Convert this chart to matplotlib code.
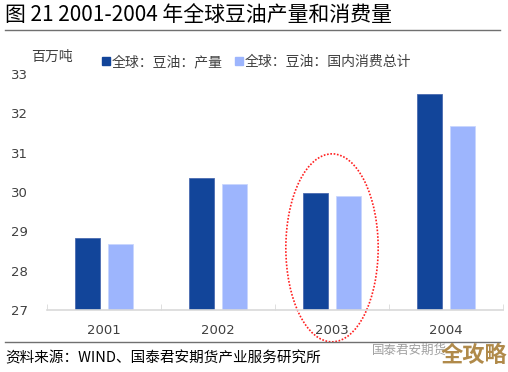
import matplotlib
matplotlib.use('Agg')
from matplotlib import pyplot as plt
from matplotlib.patches import Ellipse
from matplotlib.lines import Line2D
import numpy as np

plt.rcParams['font.family'] = ['Noto Sans CJK SC', 'DejaVu Sans']

years = ['2001', '2002', '2003', '2004']
production = [28.82, 30.35, 29.97, 32.48]
consumption = [28.68, 30.20, 29.90, 31.67]
series_names = ['全球：豆油：产量', '全球：豆油：国内消费总计']
colors = ['#12459a', '#9db5fd']


def main():
    fig = plt.figure(figsize=(5.08, 3.72), dpi=100)
    ax = fig.add_axes([47 / 508, 1 - 310 / 372, 456 / 508, 236 / 372])

    x = np.arange(len(years))
    offset = 0.145
    width = 0.225
    ax.bar(x - offset, production, width, bottom=0, color=colors[0],
           edgecolor='#4a6bb0', linewidth=0.6, label=series_names[0])
    ax.bar(x + offset, consumption, width, bottom=0, color=colors[1],
           edgecolor='#c9d6fe', linewidth=0.6, label=series_names[1])

    ax.set_ylim(27, 33)
    ax.set_xlim(-0.5, 3.5)
    ax.set_yticks(range(27, 34))
    ax.set_xticks(x)
    ax.set_xticklabels(years)
    ax.set_xticks(np.arange(-0.5, 4, 1), minor=True)
    ax.tick_params(axis='x', which='major', length=0, pad=10,
                   labelsize=9.5, labelcolor='#404040')
    ax.tick_params(axis='x', which='minor', length=4, color='#d9d9d9',
                   direction='in')
    ax.tick_params(axis='y', length=0, pad=14, labelsize=9.5,
                   labelcolor='#404040')
    for lbl in ax.get_yticklabels() + ax.get_xticklabels():
        lbl.set_family('DejaVu Sans')
    for side in ['left', 'right', 'top']:
        ax.spines[side].set_visible(False)
    ax.spines['bottom'].set_color('#d9d9d9')
    ax.spines['bottom'].set_linewidth(1.2)

    # dotted ring around 2003
    ell = Ellipse((2, 28.58), 0.81, 4.78, fill=False, edgecolor='#ff2020',
                  linestyle=(0, (1, 1)), linewidth=1.2, clip_on=False)
    ax.add_patch(ell)

    handles = [Line2D([], [], marker='s', linestyle='', markersize=6,
                      color=c) for c in colors]
    fig.legend(handles, series_names, loc='center left',
               bbox_to_anchor=(89 / 508, 1 - 62 / 372), ncol=2, frameon=False,
               fontsize=10, handlelength=0.6, handletextpad=0.1,
               columnspacing=0.9, labelcolor='#404040')

    fig.text(31 / 508, 1 - 57 / 372, '百万吨', fontsize=10, color='#404040',
             va='center')

    fig.text(5 / 508, 1 - 15 / 372, '图 21 2001-2004 年全球豆油产量和消费量',
             fontsize=15, va='center', color='black')
    fig.add_artist(Line2D([5 / 508, 500 / 508], [1 - 30 / 372] * 2,
                          color='#707070', linewidth=1))
    fig.add_artist(Line2D([5 / 508, 500 / 508], [1 - 342 / 372] * 2,
                          color='#707070', linewidth=1))
    fig.text(5 / 508, 1 - 358 / 372, '资料来源：WIND、国泰君安期货产业服务研究所',
             fontsize=10.5, va='center', color='black')
    fig.text(372 / 508, 1 - 350 / 372, '国泰君安期货', fontsize=9,
             va='center', color='#a0a0a0')
    fig.text(441 / 508, 1 - 355 / 372, '全攻略', fontsize=16,
             fontweight='bold', va='center', color='#b08a4a')

    fig.savefig('out.png', dpi=100)


if __name__ == '__main__':
    main()
